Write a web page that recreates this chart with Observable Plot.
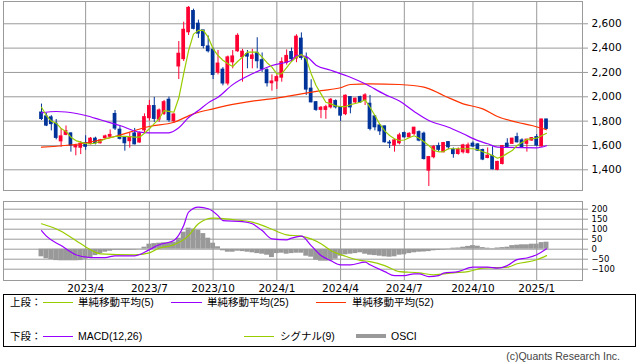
<!DOCTYPE html>
<html><head><meta charset="utf-8">
<script src="https://cdn.jsdelivr.net/npm/d3@7"></script>
<script src="https://cdn.jsdelivr.net/npm/@observablehq/plot@0.6"></script>
<style>
body{margin:0;background:#fff;}
#wrap{position:relative;width:638px;height:362px;overflow:hidden;}
#top,#bot{position:absolute;left:0;}
#top{top:0}
#bot{top:200px}
.legend{position:absolute;left:3px;top:294px;width:633px;height:53px;border:1px solid #000;box-sizing:border-box;}
.lg{position:absolute;font-family:"Liberation Sans","Noto Sans CJK JP",sans-serif;font-size:10.5px;line-height:12px;color:#000;white-space:nowrap}
.sw{position:absolute;height:1px}
.cap{position:absolute;right:18px;top:350px;font-family:"Liberation Sans",sans-serif;font-size:10.5px;color:#444;white-space:nowrap}
</style></head>
<body>
<div id="wrap">
  <div id="top"></div>
  <div id="bot"></div>
  <div class="legend"></div>
  <div class="lg" style="left:10px;top:296px">上段：</div>
  <div class="sw" style="left:43px;width:30px;top:302px;background:#99cc00"></div>
  <div class="lg" style="left:78px;top:296px">単純移動平均(5)</div>
  <div class="sw" style="left:171px;width:31px;top:302px;background:#9900ff"></div>
  <div class="lg" style="left:207px;top:296px">単純移動平均(25)</div>
  <div class="sw" style="left:316px;width:30px;top:302px;background:#ff3300"></div>
  <div class="lg" style="left:352px;top:296px">単純移動平均(52)</div>
  <div class="lg" style="left:10px;top:330px">下段：</div>
  <div class="sw" style="left:43px;width:30px;top:336px;background:#9900ff"></div>
  <div class="lg" style="left:78px;top:330px">MACD(12,26)</div>
  <div class="sw" style="left:244px;width:30px;top:336px;background:#99cc00"></div>
  <div class="lg" style="left:280px;top:330px">シグナル(9)</div>
  <div class="sw" style="left:356px;width:30px;top:334px;height:4px;background:#999"></div>
  <div class="lg" style="left:391px;top:330px">OSCI</div>
  <div class="cap">(c)Quants Research Inc.</div>
</div>
<script>
// weekly candles (index = week number)
const open = [1870,1838,1830,1778,1635,1688,1698,1585,1582,1617,
1612,1655,1619,1662,1672,1858,1729,1662,1636,1698,
1625,1725,1825,1923,1813,1860,1975,1800,2250,2310,
2531,2704,2600,2545,2413,2386,2200,2222,2110,2284,
2375,2326,2350,2312,2360,2300,2218,2112,2128,2158,
2280,2367,2315,2477,2320,2066,1955,1893,1893,1914,
1964,1914,1858,1997,1955,1997,1970,1942,1838,1764,
1756,1622,1600,1619,1701,1668,1696,1709,1696,1394,
1504,1594,1545,1627,1565,1531,1545,1540,1614,1608,
1562,1498,1512,1400,1449,1614,1614,1668,1641,1614,
1641,1668,1592,1813];
const close = [1818,1764,1776,1663,1674,1717,1598,1598,1614,1590,
1655,1619,1641,1674,1686,1740,1655,1619,1666,1610,
1700,1832,1923,1819,1887,1955,1808,1854,2353,2550,
2730,2559,2520,2418,2375,2180,2272,2110,2323,2331,
2500,2370,2331,2339,2293,2225,2112,2125,2161,2284,
2335,2310,2493,2320,2060,1955,1893,1909,1914,1975,
1914,1846,2008,1914,1983,1955,2011,1737,1750,1717,
1627,1618,1641,1682,1668,1695,1745,1641,1490,1504,
1586,1565,1619,1586,1530,1565,1600,1600,1592,1558,
1485,1515,1405,1464,1594,1586,1655,1627,1586,1647,
1660,1600,1813,1737];
const high = [1940,1862,1845,1813,1739,1760,1705,1610,1632,1680,
1665,1668,1650,1685,1728,1887,1760,1668,1700,1740,
1710,1860,1970,1995,1900,1970,1997,1860,2454,2613,
2742,2720,2630,2545,2500,2400,2380,2240,2335,2380,
2518,2390,2380,2390,2485,2360,2230,2180,2180,2320,
2385,2400,2510,2525,2360,2140,1960,1920,1930,1985,
1975,1920,2015,2000,1990,2005,2025,2011,1845,1770,
1760,1641,1650,1700,1710,1705,1750,1720,1710,1510,
1600,1620,1625,1630,1580,1580,1610,1620,1630,1615,
1570,1580,1590,1470,1600,1655,1660,1701,1655,1650,
1665,1690,1815,1815];
const low = [1805,1755,1720,1646,1586,1680,1545,1515,1525,1560,
1605,1605,1612,1655,1660,1723,1645,1553,1578,1605,
1620,1700,1800,1790,1790,1846,1790,1780,2142,2290,
2504,2550,2480,2394,2360,2142,2180,2090,2090,2230,
2365,2120,2230,2230,2230,2200,2080,2046,2060,2120,
2260,2290,2280,2300,2011,1950,1880,1820,1815,1900,
1900,1797,1845,1860,1940,1945,1928,1720,1720,1682,
1620,1575,1545,1605,1660,1660,1680,1630,1480,1263,
1490,1545,1540,1565,1495,1520,1530,1530,1585,1550,
1475,1490,1400,1392,1440,1580,1610,1620,1580,1545,
1635,1590,1585,1730];

// moving averages: [week, value]
const ma5 = [[0,1914],[1,1846],[2,1800],[3,1783],[4,1740],[5,1715],[6,1668],[7,1640],[8,1627],[9,1614],
[10,1614],[11,1619],[12,1635],[13,1655],[14,1665],[15,1674],[16,1675],[17,1674],[18,1672],[19,1668],
[20,1668],[21,1700],[22,1737],[23,1780],[24,1819],[25,1887],[26,1880],[27,1873],[28,1990],[29,2190],
[30,2380],[31,2515],[32,2545],[33,2545],[34,2490],[35,2394],[36,2339],[37,2300],[38,2271],[39,2249],
[40,2290],[41,2326],[42,2367],[43,2367],[44,2367],[45,2326],[46,2280],[47,2244],[48,2189],[49,2190],
[50,2240],[51,2290],[52,2326],[53,2348],[54,2312],[55,2190],[56,2093],[57,2024],[58,1955],[59,1942],
[60,1925],[61,1920],[62,1920],[63,1935],[64,1945],[65,1955],[66,1975],[67,1914],[68,1846],[69,1775],
[70,1720],[71,1682],[72,1655],[73,1641],[74,1645],[75,1663],[76,1680],[77,1660],[78,1630],[79,1600],
[80,1560],[81,1548],[82,1550],[83,1573],[84,1573],[85,1573],[86,1573],[87,1573],[88,1573],[89,1565],
[90,1548],[91,1535],[92,1517],[93,1495],[94,1510],[95,1535],[96,1558],[97,1600],[98,1625],[99,1650],
[100,1655],[101,1660],[102,1680],[103,1700]];
const ma25 = [[0,1868],[3,1879],[5,1875],[9,1846],[12,1811],[16,1764],[20,1709],[22,1704],[26,1704],[28,1745],
[30,1830],[32,1887],[34,1950],[36,1997],[39,2100],[43,2189],[47,2257],[51,2300],[52,2340],[54,2330],
[56,2260],[59,2218],[63,2161],[66,2107],[70,2020],[73,1965],[76,1880],[79,1805],[83,1750],[86,1696],
[89,1640],[91,1614],[93,1586],[101,1581],[103,1598]];
const ma52 = [[0,1586],[8,1614],[15,1674],[22,1756],[27,1791],[31,1860],[35,1901],[39,1937],[43,1964],[48,1989],
[53,2024],[57,2050],[61,2074],[63,2101],[67,2106],[73,2101],[78,2080],[82,2011],[86,1942],[90,1901],
[93,1838],[97,1791],[100,1764],[103,1729]];

// MACD panel
const macd = [[0,93],[1,65],[4,18],[7,-28],[10,-42],[13,-42],[15,-33],[19,-33],[22,-2],[24,22],[26,35],[27,43],
[29,118],[30,185],[32,210],[34,202],[36,168],[37,143],[41,138],[43,127],[45,93],[47,52],[50,47],[51,55],
[53,65],[55,18],[57,-32],[59,-57],[61,-78],[63,-78],[66,-65],[67,-78],[70,-112],[72,-132],[74,-132],[76,-123],
[77,-123],[79,-137],[81,-132],[82,-120],[85,-112],[88,-90],[91,-90],[93,-95],[95,-82],[97,-52],[99,-44],[101,-28],[103,2]];
const signal = [[0,127],[4,90],[7,44],[10,-3],[12,-23],[19,-28],[22,-18],[24,5],[27,22],[30,68],[32,127],[35,155],
[39,148],[43,135],[46,110],[50,72],[53,65],[57,27],[59,-6],[62,-35],[65,-56],[67,-62],[70,-82],[73,-112],
[77,-118],[80,-128],[84,-118],[87,-112],[90,-95],[95,-90],[97,-73],[101,-53],[103,-32]];
const osci = [-38,-48,-52,-57,-58,-58,-58,-58,-57,-50,
-42,-32,-22,-15,-10,-5,-5,-5,-5,-4,
-2,10,25,28,30,32,33,35,55,85,
105,100,95,78,55,30,12,-8,-15,-15,
-10,-12,-15,-18,-22,-25,-30,-42,-22,-20,
-25,-22,-20,-20,-35,-40,-55,-60,-60,-58,
-50,-35,-28,-25,-22,-18,-25,-30,-32,-35,
-38,-40,-38,-30,-28,-22,-18,-15,-14,-12,
-8,-6,-4,2,5,6,10,14,18,15,
8,5,3,6,8,10,18,20,22,22,
25,25,33,35];

// axes
const tickIdx = [9,22,35,48,61,74,88,101];
const tickLabels = ["2023/4","2023/7","2023/10","2024/1","2024/4","2024/7","2024/10","2025/1"];
const priceTicks = [1400,1600,1800,2000,2200,2400,2600];
const macdTicks = [-100,-50,0,50,100,150,200];

const UP = "#ff0033", DN = "#003399", GRID = "#9a9a9a";
const idx = d3.range(close.length);
const xDom = [-7.75, 110.34];
const style = {fontFamily: "DejaVu Sans", fontSize: "10.5px", color: "#000", background: "transparent"};
const col = i => close[i] >= open[i] ? UP : DN;
const minus = d => d < 0 ? "\u2212" + Math.abs(d) : String(d);

const topChart = Plot.plot({
  width: 638, height: 191, marginLeft: 3, marginRight: 56, marginTop: 1, marginBottom: 1,
  style,
  x: {domain: xDom, axis: null},
  y: {domain: [1230, 2783], axis: null},
  marks: [
    Plot.gridX(tickIdx, {stroke: GRID, strokeOpacity: 1}),
    Plot.gridY(priceTicks, {stroke: GRID, strokeOpacity: 1}),
    Plot.ruleX(idx, {x: i => i, y1: i => low[i], y2: i => high[i], stroke: col, strokeWidth: 1}),
    Plot.rect(idx, {x1: i => i - 0.38, x2: i => i + 0.38,
      y1: i => Math.min(open[i], close[i]), y2: i => Math.max(open[i], close[i]),
      fill: col, insetTop: -0.6, insetBottom: -0.6}),
    Plot.line(ma52, {x: d => d[0], y: d => d[1], stroke: "#ff3300", strokeWidth: 1.2, curve: "monotone-x"}),
    Plot.line(ma25, {x: d => d[0], y: d => d[1], stroke: "#9900ff", strokeWidth: 1.2, curve: "monotone-x"}),
    Plot.line(ma5, {x: d => d[0], y: d => d[1], stroke: "#99cc00", strokeWidth: 1.2}),
    Plot.frame({stroke: GRID}),
    Plot.axisY(priceTicks, {anchor: "right", tickSize: 5, tickPadding: 4, stroke: GRID, fill: "#000",
      tickFormat: d3.format(",")})
  ]
});
document.getElementById("top").append(topChart);

const botChart = Plot.plot({
  width: 638, height: 100, marginLeft: 3, marginRight: 56, marginTop: 1, marginBottom: 20,
  style,
  x: {domain: xDom, axis: null},
  y: {domain: [-156.5, 238.5], axis: null},
  marks: [
    Plot.gridX(tickIdx, {stroke: GRID, strokeOpacity: 1}),
    Plot.gridY(macdTicks, {stroke: GRID, strokeOpacity: 1}),
    Plot.rect(idx, {x1: i => i - 0.5, x2: i => i + 0.5, y1: () => 0, y2: i => osci[i], fill: "#999"}),
    Plot.line(signal, {x: d => d[0], y: d => d[1], stroke: "#99cc00", strokeWidth: 1.2, curve: "monotone-x"}),
    Plot.line(macd, {x: d => d[0], y: d => d[1], stroke: "#9900ff", strokeWidth: 1.2, curve: "monotone-x"}),
    Plot.frame({stroke: GRID}),
    Plot.axisY(macdTicks, {anchor: "right", tickSize: 5, tickPadding: 4, stroke: GRID, fill: "#000",
      fontSize: 8.5, tickFormat: minus}),
    Plot.axisX(tickIdx, {anchor: "bottom", tickSize: 0, tickPadding: 4, fill: "#000",
      tickFormat: d => tickLabels[tickIdx.indexOf(d)]})
  ]
});
document.getElementById("bot").append(botChart);
</script>
</body></html>
